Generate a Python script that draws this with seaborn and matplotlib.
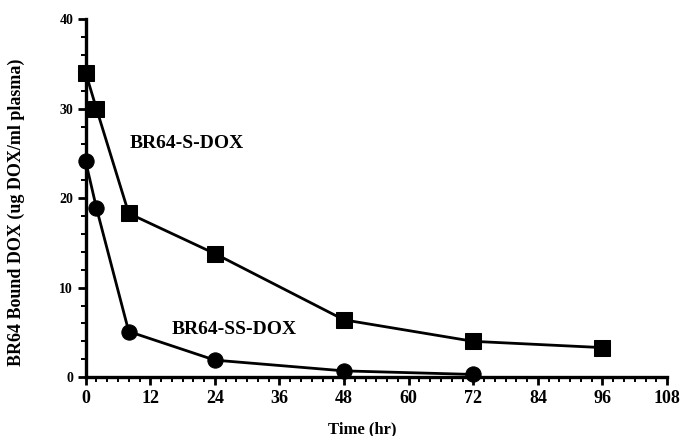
import pandas as pd
import numpy as np
import matplotlib
matplotlib.use("Agg")
import matplotlib.pyplot as plt
from matplotlib.ticker import MultipleLocator
import seaborn as sns

# Data
time_s = [0, 2, 8, 24, 48, 72, 96]
bound_s = [34.0, 30.0, 18.3, 13.8, 6.4, 4.0, 3.3]
time_ss = [0, 2, 8, 24, 48, 72]
bound_ss = [24.1, 18.9, 5.1, 1.9, 0.7, 0.3]
series_names = ["BR64-S-DOX", "BR64-SS-DOX"]

df = pd.concat([
    pd.DataFrame({"time": time_s, "bound": bound_s, "conj": series_names[0]}),
    pd.DataFrame({"time": time_ss, "bound": bound_ss, "conj": series_names[1]}),
])

sns.set_style("ticks", {"text.color": "black", "axes.labelcolor": "black",
                        "xtick.color": "black", "ytick.color": "black",
                        "axes.edgecolor": "black"})
plt.rcParams["font.family"] = ["Liberation Serif", "DejaVu Serif"]
plt.rcParams["font.weight"] = "bold"

fig = plt.figure(figsize=(6.8, 4.36), dpi=100)
ax = fig.add_axes([0.126, 0.135, 0.855, 0.821])

sns.lineplot(data=df, x="time", y="bound", hue="conj", style="conj",
             markers={series_names[0]: "s", series_names[1]: "o"}, dashes=False,
             palette=["black", "black"], markersize=11, linewidth=2.0,
             markeredgecolor="black", legend=False, ax=ax, clip_on=False, zorder=3)

ax.set_xlim(0, 108)
ax.set_ylim(0, 40)
ax.xaxis.set_major_locator(MultipleLocator(12))
ax.xaxis.set_minor_locator(MultipleLocator(2))
ax.yaxis.set_major_locator(MultipleLocator(10))
ax.yaxis.set_minor_locator(MultipleLocator(2))
ax.tick_params(axis="both", which="major", length=6, width=2, pad=3)
ax.tick_params(axis="both", which="minor", length=3.5, width=1.4)
ax.tick_params(axis="x", labelsize=13)
ax.tick_params(axis="y", labelsize=10)
for lab in ax.get_xticklabels() + ax.get_yticklabels():
    lab.set_fontweight("bold")
sns.despine(ax=ax)
for sp in ["left", "bottom"]:
    ax.spines[sp].set_linewidth(2.4)

ax.text(8.2, 26.1, series_names[0], fontsize=14, fontweight="bold", va="center", ha="left")
ax.text(16.0, 5.3, series_names[1], fontsize=14, fontweight="bold", va="center", ha="left")

ax.set_xlabel("Time (hr)", fontsize=12, fontweight="bold")
ax.set_ylabel("BR64 Bound DOX (ug DOX/ml plasma)", fontsize=13, fontweight="bold")
ax.xaxis.set_label_coords(0.475, -0.124)
ax.yaxis.set_label_coords(-0.105, 0.46)

fig.savefig("out.png", dpi=100)
